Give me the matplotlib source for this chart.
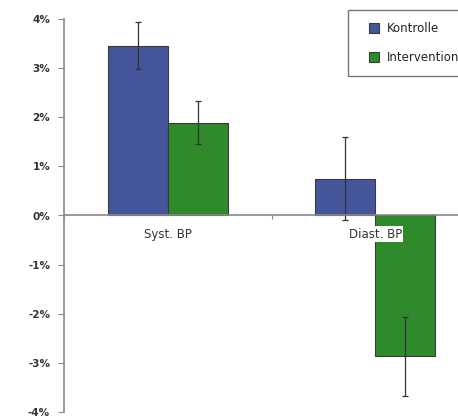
import matplotlib
matplotlib.use("Agg")
import matplotlib.pyplot as plt
import numpy as np
from matplotlib.lines import Line2D
from matplotlib.ticker import FuncFormatter

# Relative change in blood pressure per group
categories = ["Syst. BP", "Diast. BP"]
kontrolle = [3.46, 0.75]
kontrolle_err = [0.48, 0.85]
intervention = [1.89, -2.87]
intervention_err = [0.44, 0.80]
groups = ["Kontrolle", "Intervention"]

blue = "#45559b"
green = "#2e8a2a"
edge = "#3a3a3a"
axis_gray = "#8a8a8a"

fig = plt.figure(figsize=(4.58, 4.19), dpi=100)
ax = fig.add_axes([64 / 458, 1 - 412 / 419, 415 / 458, (412 - 19) / 419])

x = np.arange(len(categories))
w = 0.29
err_kw = dict(ecolor="#333333", elinewidth=0.9, capsize=2.5, capthick=0.9)
ax.bar(x - w / 2, kontrolle, w, yerr=kontrolle_err, color=blue,
       edgecolor=edge, linewidth=0.8, error_kw=err_kw, zorder=2)
ax.bar(x + w / 2, intervention, w, yerr=intervention_err, color=green,
       edgecolor=edge, linewidth=0.8, error_kw=err_kw, zorder=2)

ax.set_xlim(-0.5, len(categories) - 0.5)
ax.set_ylim(-4, 4)
ax.set_yticks(np.arange(-4, 5, 1))
ax.yaxis.set_major_formatter(FuncFormatter(lambda v, p: f"{v:.0f}%"))

# category axis sits on the zero line
for s in ["top", "right"]:
    ax.spines[s].set_visible(False)
ax.spines["bottom"].set_position(("data", 0))
ax.spines["bottom"].set_color(axis_gray)
ax.spines["bottom"].set_linewidth(1.2)
ax.spines["left"].set_color(axis_gray)
ax.spines["left"].set_linewidth(1.2)
ax.set_xticks(np.arange(-0.5, len(categories), 1.0))
ax.set_xticklabels([])
ax.tick_params(axis="x", length=3, color=axis_gray, direction="out")
ax.tick_params(axis="y", length=4, color=axis_gray, labelsize=7.5, pad=6,
               labelcolor="#333333")
for lbl in ax.get_yticklabels():
    lbl.set_fontweight("bold")

for i, cat in enumerate(categories):
    ax.text(i, -0.38, cat, ha="center", va="center", fontsize=8.5,
            color="#333333", zorder=4,
            bbox=dict(facecolor="white", edgecolor="none", pad=1))

# legend with square markers
handles = [Line2D([], [], linestyle="none", marker="s", markersize=7,
                  markerfacecolor=c, markeredgecolor=edge, markeredgewidth=0.8)
           for c in (blue, green)]
leg = fig.legend(handles, groups, loc="upper left",
                 bbox_to_anchor=(348 / 458, 1 - 10 / 419),
                 fontsize=8.5, frameon=True, fancybox=False, edgecolor="#555555",
                 handlelength=2.4, handletextpad=-0.1,
                 labelspacing=1.35, borderpad=1.0, borderaxespad=0)
leg.get_frame().set_linewidth(1.0)
for t in leg.get_texts():
    t.set_color("#222222")

fig.savefig("out.png", dpi=100)
